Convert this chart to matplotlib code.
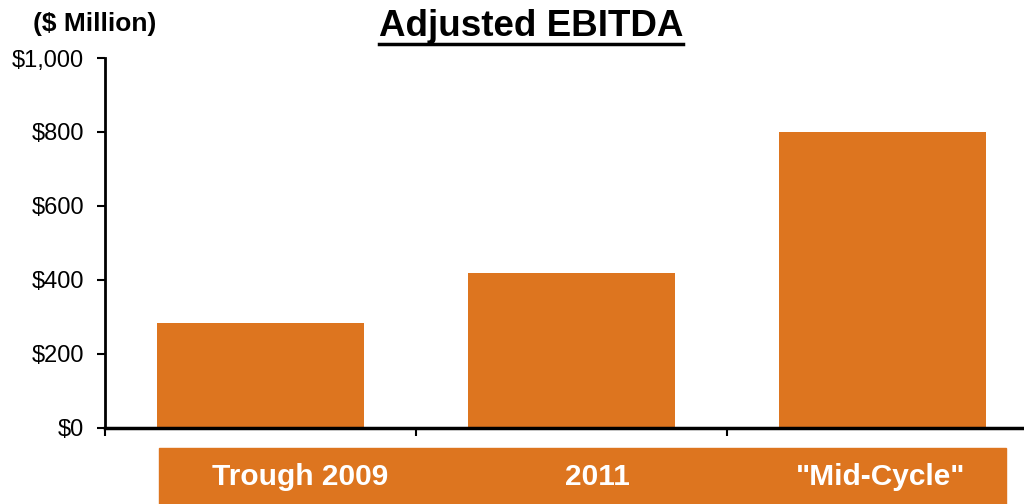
import matplotlib
matplotlib.use("Agg")
import matplotlib.pyplot as plt
from matplotlib.patches import Rectangle
from matplotlib.lines import Line2D

plt.rcParams['font.family'] = ['Liberation Sans', 'DejaVu Sans']

categories = ['Trough 2009', '2011', '"Mid-Cycle"']
ebitda = [285, 420, 800]
yticks = [0, 200, 400, 600, 800, 1000]
ytick_labels = ['$0', '$200', '$400', '$600', '$800', '$1,000']

orange = '#DD751F'

fig = plt.figure(figsize=(10.24, 5.04), dpi=100)
ax = fig.add_axes([105 / 1024, 1 - 428 / 504, 919 / 1024, 370 / 504])

x = list(range(len(categories)))
ax.bar(x, ebitda, width=0.666, color=orange, zorder=2)

ax.set_xlim(-0.5, -0.5 + 919 / 311)
ax.set_ylim(0, 1000)
ax.set_yticks(yticks)
ax.set_yticklabels(ytick_labels, fontsize=17)
ax.set_xticks([-0.5, 0.5, 1.5])
ax.set_xticklabels([])
ax.tick_params(axis='y', length=6, width=1.5, pad=9)
ax.tick_params(axis='x', length=6, width=1.5)
for s in ['top', 'right']:
    ax.spines[s].set_visible(False)
ax.spines['left'].set_linewidth(2)
ax.spines['bottom'].set_linewidth(2.5)

# orange category band below the axis, labels spread evenly across it
band_x0, band_x1 = 159 / 1024, 1006 / 1024
fig.patches.append(Rectangle((band_x0, 0), band_x1 - band_x0, 56 / 504,
                             transform=fig.transFigure, color=orange, zorder=0))
label_x = [300 / 1024, 597 / 1024, 881 / 1024]
for lx, name in zip(label_x, categories):
    fig.text(lx, 1 - 477 / 504, name, ha='center', va='center',
             color='white', fontsize=21.5, fontweight='bold')

title = fig.text(531 / 1024, 1 - 27 / 504, 'Adjusted EBITDA', ha='center', va='center',
                 fontsize=26.5, fontweight='bold')
fig.text(33 / 1024, 1 - 24 / 504, '($ Million)', ha='left', va='center',
         fontsize=19, fontweight='bold')

fig.canvas.draw()
bb = title.get_window_extent().transformed(fig.transFigure.inverted())
fig.lines.append(Line2D([bb.x0, bb.x1], [1 - 44 / 504] * 2, transform=fig.transFigure,
                        color='black', linewidth=2.5))

fig.savefig('out.png', dpi=100)
